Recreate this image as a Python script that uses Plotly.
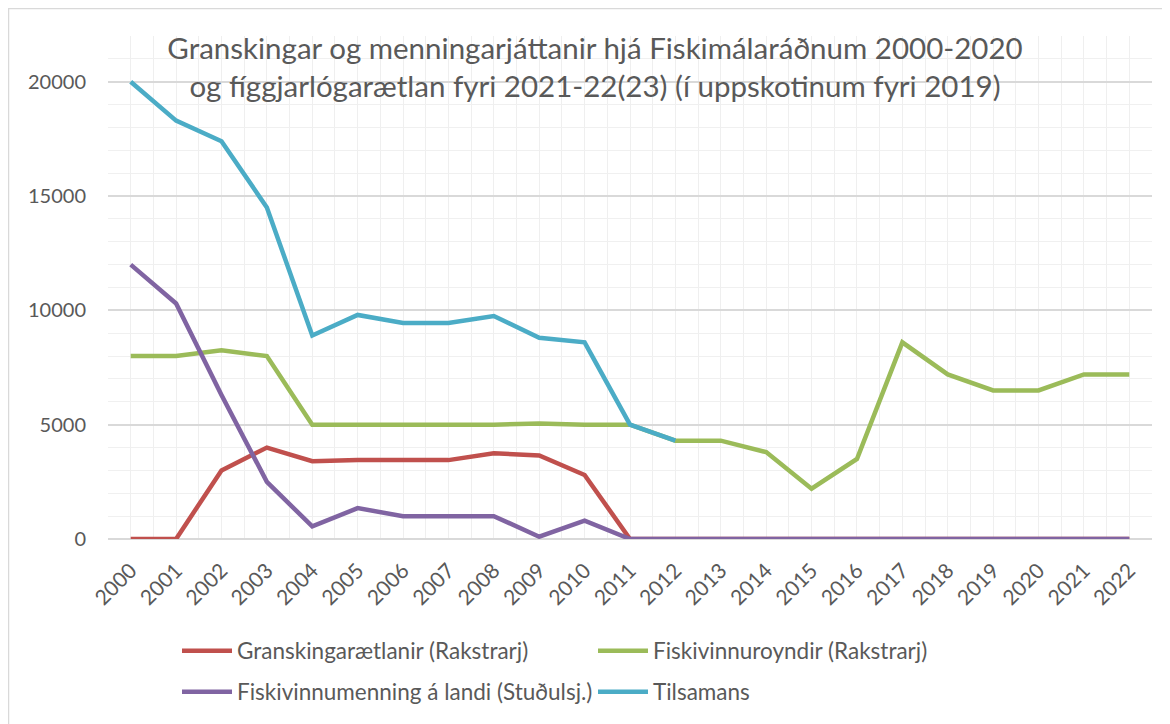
import plotly.graph_objects as go

years = list(range(2000, 2023))
year_labels = [str(y) for y in years]
y_ticks = [0, 5000, 10000, 15000, 20000]
y_tick_labels = ["0", "5000", "10000", "15000", "20000"]

granskingar = [0, 0, 3000, 4000, 3400, 3450, 3450, 3450, 3750, 3650, 2800, 0,
               0, 0, 0, 0, 0, 0, 0, 0, 0, 0, 0]
fiskivinnuroyndir = [8000, 8000, 8250, 8000, 5000, 5000, 5000, 5000, 5000, 5050, 5000, 5000,
                     4300, 4300, 3800, 2200, 3500, 8600, 7200, 6500, 6500, 7200, 7200]
fiskivinnumenning = [12000, 10300, 6300, 2500, 550, 1350, 1000, 1000, 1000, 100, 800, 0,
                     0, 0, 0, 0, 0, 0, 0, 0, 0, 0, 0]
tilsamans = [20000, 18300, 17400, 14500, 8900, 9800, 9450, 9450, 9750, 8800, 8600, 5000,
             4300, None, None, None, None, None, None, None, None, None, None]

names = ["Granskingarætlanir (Rakstrarj)", "Fiskivinnuroyndir (Rakstrarj)",
         "Fiskivinnumenning á landi (Stuðulsj.)", "Tilsamans"]
colors = ["#C0504D", "#9BBB59", "#8064A2", "#4BACC6"]
series = [granskingar, fiskivinnuroyndir, fiskivinnumenning, tilsamans]
legends = ["legend", "legend", "legend2", "legend2"]

FONT = "Lato"
TXT = "#595959"
CLEAR = "rgba(0,0,0,0)"

fig = go.Figure()
for name, col, vals, lg in zip(names, colors, series, legends):
    fig.add_trace(go.Scatter(x=years, y=vals, name=name, mode="lines",
                             line=dict(color=col, width=4.5),
                             legend=lg, connectgaps=False))

# page body has an 8px offset; work in reference pixel coords minus 8
OFF = 8
W, H = 1170 - OFF, 724 - OFF
L, R, T, B = 108 - OFF, 18, 36 - OFF, 184
pw = W - L - R
ph = H - T - B

def px(x):
    return (x - OFF - L) / pw

def py(y):
    return (H - B - (y - OFF)) / ph

fig.update_layout(
    width=W, height=H,
    margin=dict(l=L, r=R, t=T, b=B),
    paper_bgcolor="white", plot_bgcolor="white",
    font=dict(family=FONT, color=TXT),
    title=dict(text="Granskingar og menningarjáttanir hjá Fiskimálaráðnum 2000-2020<br>og fíggjarlógarætlan fyri 2021-22(23) (í uppskotinum fyri 2019)",
               x=(595 - OFF) / W, xanchor="center", y=1 - 51 / H, yanchor="middle",
               font=dict(family=FONT, size=29.5, color=TXT)),
    xaxis=dict(range=[1999.5, 2022.5], tickmode="array", tickvals=years, ticktext=year_labels,
               tickangle=-45, tickfont=dict(size=21, color=TXT),
               ticks="outside", ticklen=10, tickcolor=CLEAR,
               showgrid=True, gridcolor="#EFEFEF", gridwidth=1,
               minor=dict(dtick=0.5, tick0=1999.5, showgrid=True, gridcolor="#EFEFEF", gridwidth=1),
               showline=False, zeroline=False),
    yaxis=dict(range=[0, 22000], tickmode="array", tickvals=y_ticks, ticktext=y_tick_labels,
               tickfont=dict(size=20, color=TXT),
               ticks="outside", ticklen=17, tickcolor=CLEAR,
               showgrid=True, gridcolor="#D9D9D9", gridwidth=1.5,
               minor=dict(dtick=1000, showgrid=True, gridcolor="#F0F0F0", gridwidth=1),
               zeroline=True, zerolinecolor="#D9D9D9", zerolinewidth=1.5,
               showline=False),
    legend=dict(orientation="h", x=px(177), xanchor="left", y=py(651), yanchor="middle",
                entrywidth=351, entrywidthmode="pixels", itemwidth=50,
                font=dict(family=FONT, size=22.5, color=TXT), bgcolor=CLEAR),
    legend2=dict(orientation="h", x=px(177), xanchor="left", y=py(692), yanchor="middle",
                 entrywidth=351, entrywidthmode="pixels", itemwidth=50,
                 font=dict(family=FONT, size=22.5, color=TXT), bgcolor=CLEAR),
    showlegend=True,
)

fig.add_shape(type="rect", xref="paper", yref="paper",
              x0=px(8.5), x1=px(1165), y0=py(740), y1=py(8.5),
              line=dict(color="#D9D9D9", width=1.5), fillcolor=CLEAR, layer="below")

fig.write_html("out.html")
